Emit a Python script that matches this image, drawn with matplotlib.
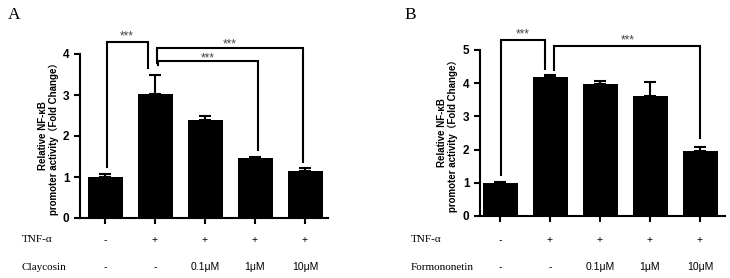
import matplotlib
matplotlib.use("Agg")
import matplotlib.pyplot as plt
import numpy as np

# Data
tnf_labels = ["-", "+", "+", "+", "+"]
dose_labels = ["-", "-", "0.1\u03bcM", "1\u03bcM", "10\u03bcM"]

a_values = [1.00, 3.03, 2.38, 1.47, 1.14]
a_errors = [0.07, 0.47, 0.12, 0.02, 0.07]
b_values = [1.00, 4.20, 3.97, 3.60, 1.97]
b_errors = [0.03, 0.04, 0.10, 0.45, 0.10]

a_yticks = [0, 1, 2, 3, 4]
b_yticks = [0, 1, 2, 3, 4, 5]

ylabel = "Relative NF-\u03baB\npromoter activity\uff08Fold Change\uff09"

fig = plt.figure(figsize=(7.3, 2.78), dpi=100)

SANS = ["Liberation Sans", "Noto Sans CJK SC", "DejaVu Sans"]
SERIF = ["Liberation Serif", "DejaVu Serif"]


def panel(rect, values, errors, yticks, xlim, drug, brackets, letter, letter_x, label_x, ylab_x):
    ax = fig.add_axes(rect)
    x = np.arange(len(values))
    ax.bar(x, values, width=0.7, color="black", zorder=2)
    ax.errorbar(x, values, yerr=[np.zeros(len(errors)), errors], fmt="none",
                ecolor="black", elinewidth=1.5, capsize=4, capthick=1.5, zorder=1)
    ax.set_xlim(*xlim)
    ax.set_ylim(yticks[0], yticks[-1])
    ax.set_yticks(yticks)
    ax.set_xticks(x)
    ax.set_xticklabels([])
    for s in ["top", "right"]:
        ax.spines[s].set_visible(False)
    for s in ["left", "bottom"]:
        ax.spines[s].set_linewidth(1.5)
    ax.tick_params(axis="both", width=1.5, length=4, direction="out")
    for t in ax.get_yticklabels():
        t.set_fontweight("bold")
        t.set_fontsize(8.5)
        t.set_family(SANS)
    ax.set_ylabel(ylabel, fontsize=7, fontweight="bold", family=SANS, labelpad=3, linespacing=1.1)
    # brackets
    for (x0, x1, y0, y1, ytop, sx, sy) in brackets:
        ax.plot([x0, x0, x1, x1], [y0, ytop, ytop, y1], color="black", lw=1.5,
                clip_on=False, solid_joinstyle="miter")
        ax.text(sx, sy, "***", ha="center", va="center", fontsize=8.5, color="#444444",
                family=SANS, clip_on=False)
    ytnf = 240
    ydose = 267
    for i, (t, d) in enumerate(zip(tnf_labels, dose_labels)):
        xd = ax.transData.transform((i, 0))[0]
        fig.text(xd / 730, 1 - ytnf / 278, t, ha="center", va="center", fontsize=7.5, family=SANS)
        fig.text(xd / 730, 1 - ydose / 278, d, ha="center", va="center", fontsize=7.5, family=SANS)
    fig.text(label_x / 730, 1 - ytnf / 278, "TNF-\u03b1", ha="left", va="center", fontsize=8, family=SERIF)
    fig.text(label_x / 730, 1 - ydose / 278, drug, ha="left", va="center", fontsize=8, family=SERIF)
    fig.text(letter_x / 730, 1 - 15 / 278, letter, ha="left", va="center", fontsize=12.5, family=SERIF)
    ax.yaxis.set_label_coords(ylab_x, 0.5)
    return ax


a_brackets = [
    (0.04, 0.86, 1.24, 3.66, 4.30, 0.44, 4.44),
    (1.04, 3.96, 3.78, 1.36, 4.14, 2.50, 4.24),
    (1.06, 3.06, 3.72, 1.66, 3.82, 2.06, 3.90),
]
b_brackets = [
    (0.02, 0.90, 1.24, 4.42, 5.30, 0.46, 5.48),
    (1.08, 4.00, 4.39, 2.36, 5.12, 2.56, 5.28),
]

panel([80 / 730, 1 - 218 / 278, (328 - 80) / 730, (218 - 54) / 278],
      a_values, a_errors, a_yticks, (-0.5, 4.46), "Claycosin", a_brackets, "A", 8, 22, -0.085)
panel([480 / 730, 1 - 216 / 278, (725 - 480) / 730, (216 - 50) / 278],
      b_values, b_errors, b_yticks, (-0.4, 4.5), "Formononetin", b_brackets, "B", 404, 411, -0.09)

fig.savefig("out.png", dpi=100)
